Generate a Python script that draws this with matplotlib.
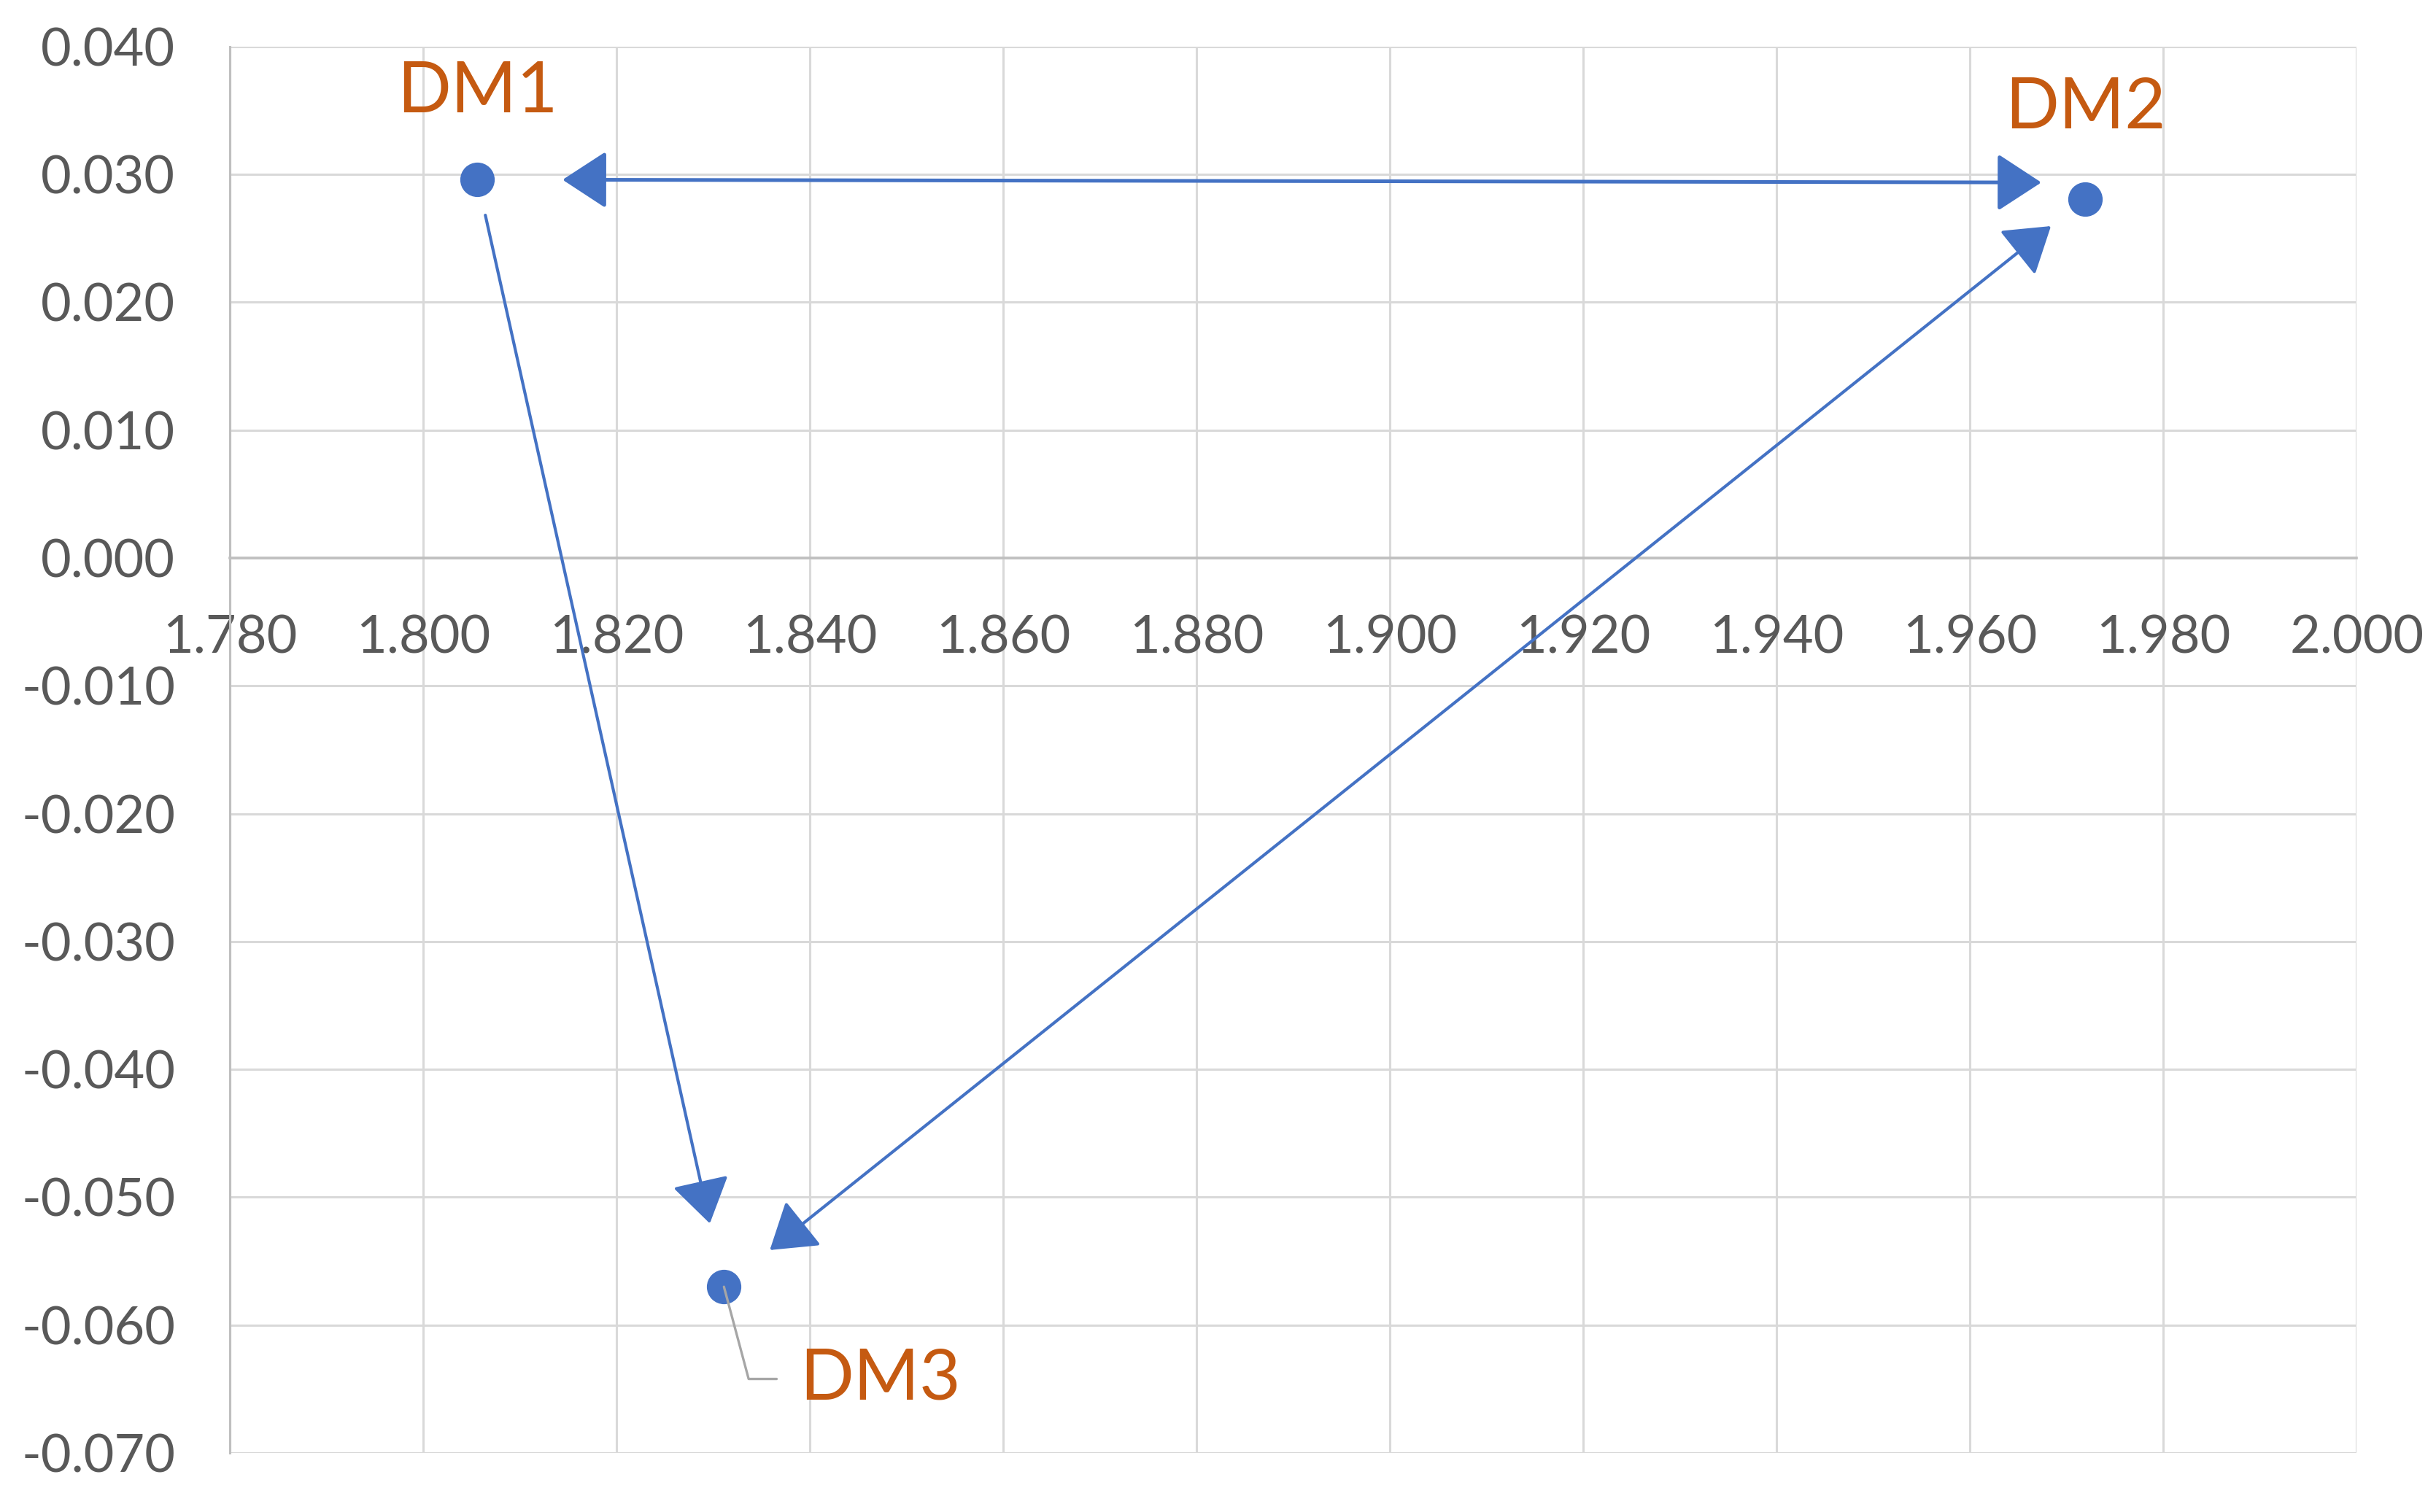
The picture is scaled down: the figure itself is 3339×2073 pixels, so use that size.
import matplotlib
matplotlib.use("Agg")
import matplotlib.pyplot as plt
from matplotlib.ticker import FuncFormatter
from matplotlib.transforms import ScaledTranslation

# Data
labels = ["DM1", "DM2", "DM3"]
x_vals = [1.8056, 1.9719, 1.8311]
y_vals = [0.0296, 0.0281, -0.0570]
x_ticks = [1.78, 1.80, 1.82, 1.84, 1.86, 1.88, 1.90, 1.92, 1.94, 1.96, 1.98, 2.00]
y_ticks = [-0.07, -0.06, -0.05, -0.04, -0.03, -0.02, -0.01, 0.0, 0.01, 0.02, 0.03, 0.04]

BLUE = "#4472C4"
ORANGE = "#C55A11"
GRID = "#D9D9D9"
AXIS = "#BFBFBF"
TEXT = "#595959"

plt.rcParams['font.family'] = ['Lato', 'DejaVu Sans']

fig = plt.figure(figsize=(3339/200, 2073/200), dpi=200)
ax = fig.add_axes([148/1568, 1-935/973, (1517-148)/1568, (935-30)/973])

ax.set_xlim(x_ticks[0], x_ticks[-1])
ax.set_ylim(y_ticks[0], y_ticks[-1])
ax.set_xticks(x_ticks)
ax.set_yticks(y_ticks)
fmt = FuncFormatter(lambda v, p: ("%.3f" % v) if abs(v) > 1e-9 else "0.000")
ax.xaxis.set_major_formatter(fmt)
ax.yaxis.set_major_formatter(fmt)

ax.grid(True, color=GRID, lw=1.1, zorder=0)
ax.set_axisbelow(True)
for s in ["top", "right"]:
    ax.spines[s].set_visible(False)
ax.spines["left"].set_color(AXIS)
ax.spines["left"].set_linewidth(1.1)
ax.spines["bottom"].set_position(("data", 0))
ax.spines["bottom"].set_color(AXIS)
ax.spines["bottom"].set_linewidth(1.3)

ax.tick_params(axis="both", length=0, labelsize=26, colors=TEXT)
ax.tick_params(axis="x", pad=28)
ax.tick_params(axis="y", pad=27)

# points
ax.plot(x_vals, y_vals, linestyle="none", marker="o", markersize=16,
        color=BLUE, zorder=5, clip_on=False)


def off(dx, dy):
    return ax.transData + ScaledTranslation(dx / 72, dy / 72, fig.dpi_scale_trans)


def arrow(i_from, i_to, style, sA, sB, lw=1.5, off_from=(0, 0), off_to=(0, 0)):
    ax.annotate("", xy=(x_vals[i_to], y_vals[i_to]), xycoords=off(*off_to),
                xytext=(x_vals[i_from], y_vals[i_from]), textcoords=off(*off_from),
                arrowprops=dict(arrowstyle=style + ",head_length=0.95,head_width=0.62",
                                mutation_scale=20, color=BLUE, lw=lw,
                                shrinkA=sA, shrinkB=sB),
                zorder=4)


arrow(0, 1, "<|-|>", 42, 21.6, lw=1.8, off_to=(0, 8))
arrow(0, 2, "-|>", 18, 32)
arrow(1, 2, "<|-|>", 21.6, 29)

# labels
ax.annotate(labels[0], xy=(x_vals[0], y_vals[0]), xytext=(0, 43),
            textcoords="offset points", ha="center", va="center",
            fontsize=35, color=ORANGE, zorder=6)
ax.annotate(labels[1], xy=(x_vals[1], y_vals[1]), xytext=(0, 44.6),
            textcoords="offset points", ha="center", va="center",
            fontsize=35, color=ORANGE, zorder=6)
# DM3 leader line
ax.annotate("", xy=(x_vals[2], y_vals[2]), xytext=(26, -45.5),
            textcoords="offset points",
            arrowprops=dict(arrowstyle="-", color="#A6A6A6", lw=1.2,
                            shrinkA=0, shrinkB=0,
                            connectionstyle="angle,angleA=0,angleB=105,rad=0"),
            zorder=6)
ax.annotate(labels[2], xy=(x_vals[2], y_vals[2]), xytext=(37.5, -46),
            textcoords="offset points", ha="left", va="center",
            fontsize=35, color=ORANGE, zorder=6)

fig.savefig("out.png", dpi=200, facecolor="white")
